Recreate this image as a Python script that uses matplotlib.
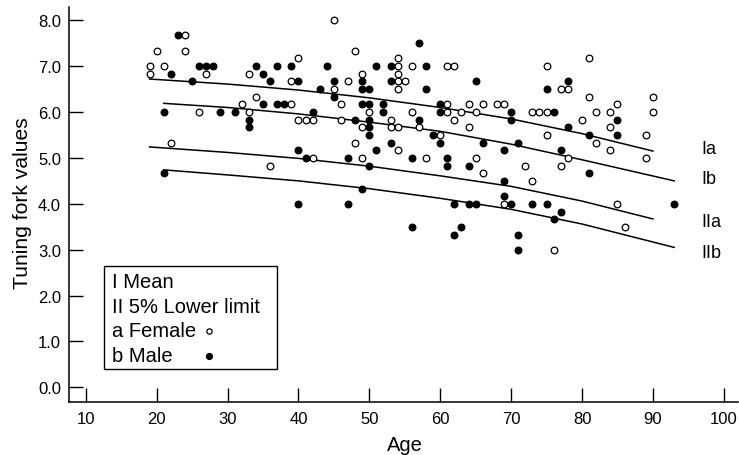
import matplotlib
matplotlib.use('Agg')
import matplotlib.pyplot as plt
from matplotlib.patches import Rectangle

plt.rcParams['font.family'] = ['Liberation Sans', 'DejaVu Sans']

# Female subjects (open circles): age, tuning fork value
female_age = [19, 19, 20, 21, 22, 24, 24, 26, 27, 32, 33, 33, 34, 36, 39, 39, 40, 40,
              41, 42, 42, 45, 45, 46, 46, 47, 48, 48, 49, 49, 49, 50, 53, 53,
              54, 54, 54, 54, 54, 54, 54, 55, 56, 56, 57, 58, 60, 61, 61, 61, 62, 62,
              63, 64, 64, 65, 65, 66, 66, 68, 69, 69, 72, 73, 73, 74, 75, 75, 75, 76,
              77, 77, 78, 78, 80, 81, 81, 82, 82, 84, 84, 84, 85, 85, 86, 89, 89, 90, 90]
female_val = [7.0, 6.83, 7.33, 7.0, 5.33, 7.67, 7.33, 6.0, 6.83, 6.17, 6.83, 6.0, 6.33, 4.83,
              6.67, 6.17, 7.17, 5.83, 5.83, 5.83, 5.0, 8.0, 6.5, 6.17, 5.83, 6.67, 7.33, 5.33,
              6.83, 5.67, 5.0, 6.0, 5.83, 5.67, 7.17, 7.0, 6.83, 6.67, 6.5, 5.67, 5.17, 6.67,
              7.0, 6.0, 5.67, 5.0, 5.5, 7.0, 6.17, 6.0, 7.0, 5.83, 6.0, 6.17, 5.67, 6.0, 5.0,
              6.17, 4.67, 6.17, 6.17, 4.0, 4.83, 6.0, 4.5, 6.0, 7.0, 6.0, 5.5, 3.0, 6.5, 4.83,
              6.5, 5.0, 5.83, 7.17, 6.33, 6.0, 5.33, 6.0, 5.67, 5.17, 6.17, 4.0, 3.5, 5.5, 5.0,
              6.33, 6.0]

# Male subjects (filled circles)
male_age = [21, 21, 22, 23, 25, 26, 27, 28, 29, 31, 33, 33, 34, 35, 35, 36, 37, 37, 38, 39,
            40, 40, 40, 41, 42, 43, 44, 45, 45, 47, 47, 48, 49, 49, 49, 49,
            50, 50, 50, 50, 50, 50, 51, 51, 52, 52, 53, 53, 53, 56, 56, 57, 57, 58, 58, 59,
            60, 60, 60, 61, 61, 62, 62, 63, 64, 64, 65, 65, 66, 69, 69, 69, 70, 70, 70,
            71, 71, 71, 73, 75, 75, 76, 76, 77, 77, 78, 78, 81, 81, 85, 85, 93]
male_val = [6.0, 4.67, 6.83, 7.67, 6.67, 7.0, 7.0, 7.0, 6.0, 6.0, 5.83, 5.67, 7.0, 6.83, 6.17,
            6.67, 7.0, 6.17, 6.17, 7.0, 6.67, 5.17, 4.0, 5.0, 6.0, 6.5, 7.0, 6.67, 6.33, 5.0,
            4.0, 5.83, 6.67, 6.5, 6.17, 4.33, 6.5, 6.17, 5.83, 5.67, 5.5, 4.83, 7.0, 5.17,
            6.17, 6.0, 7.0, 6.67, 5.33, 5.0, 3.5, 7.5, 5.83, 7.0, 6.5, 5.5, 6.17, 6.0, 5.33,
            5.0, 4.83, 4.0, 3.33, 3.5, 4.83, 4.0, 6.67, 4.0, 5.33, 5.17, 4.5, 4.17, 6.0, 5.83,
            4.0, 5.33, 3.33, 3.0, 4.0, 6.5, 4.0, 6.0, 3.67, 5.17, 3.83, 6.67, 5.67, 5.5, 4.67,
            5.83, 5.5, 4.0]

# Fitted curves
curve_a_age = [19, 30, 40, 50, 60, 70, 80, 90]
curve_b_age = [21, 30, 40, 50, 60, 70, 80, 93]
mean_female = [6.72, 6.61, 6.48, 6.31, 6.10, 5.85, 5.53, 5.15]
mean_male = [6.19, 6.10, 5.96, 5.78, 5.58, 5.30, 4.96, 4.50]
low_female = [5.24, 5.12, 4.99, 4.82, 4.61, 4.38, 4.06, 3.67]
low_male = [4.74, 4.63, 4.50, 4.33, 4.12, 3.88, 3.56, 3.05]

W, H = 739, 456
fig = plt.figure(figsize=(W / 100, H / 100), dpi=100)
ax = fig.add_axes([68.7 / W, 1 - 403 / H, (738 - 68.7) / W, (403 - 8) / H])

for xs, ys in [(curve_a_age, mean_female), (curve_b_age, mean_male),
               (curve_a_age, low_female), (curve_b_age, low_male)]:
    ax.plot(xs, ys, color='black', lw=1.1)

ax.plot(female_age, female_val, 'o', ms=4.8, mfc='white', mec='black', mew=0.9, ls='none')
ax.plot(male_age, male_val, 'o', ms=4.8, mfc='black', mec='black', mew=0.9, ls='none')

ax.set_xlim(7.6, 102.0)
ax.set_ylim(-0.32, 8.29)
ax.set_xticks(range(10, 101, 10))
ax.set_yticks([i for i in range(0, 9)])
ax.set_yticklabels([f'{i:.1f}' for i in range(0, 9)])
ax.tick_params(direction='in', length=10, width=1, labelsize=12, colors='black')
ax.tick_params(axis='x', pad=6.5)
ax.tick_params(axis='y', pad=5.5)
for s in ['top', 'right']:
    ax.spines[s].set_visible(False)
for s in ['left', 'bottom']:
    ax.spines[s].set_linewidth(1.1)

# axis titles
fig.text(404.7 / W, 1 - 446 / H, 'Age', fontsize=14.5, ha='center', va='center')
fig.text(23 / W, 1 - 203 / H, 'Tuning fork values', fontsize=15.2, ha='center', va='center',
         rotation=90)

# curve labels
for lab, yv in [('Ia', 150), ('Ib', 180), ('IIa', 223), ('IIb', 254)]:
    fig.text(701 / W, 1 - yv / H, lab, fontsize=13, va='center', ha='left')

# legend box
fig.patches.append(Rectangle((104.3 / W, 1 - 370.3 / H), (276.7 - 104.3) / W, (370.3 - 267.3) / H,
                             transform=fig.transFigure, fill=False, ec='black', lw=1.0))
for txt, yv in [('I Mean', 282.7), ('II 5% Lower limit', 308), ('a Female', 331.7), ('b Male', 356.7)]:
    fig.text(112.5 / W, 1 - yv / H, txt, fontsize=14.5, va='center', ha='left')
ax.plot([209.3 / W], [1 - 331.7 / H], 'o', ms=3.8, mfc='white', mec='black', mew=0.9,
        transform=fig.transFigure, clip_on=False)
ax.plot([209.3 / W], [1 - 356.7 / H], 'o', ms=4.2, mfc='black', mec='black',
        transform=fig.transFigure, clip_on=False)

fig.savefig('out.png', dpi=100)
